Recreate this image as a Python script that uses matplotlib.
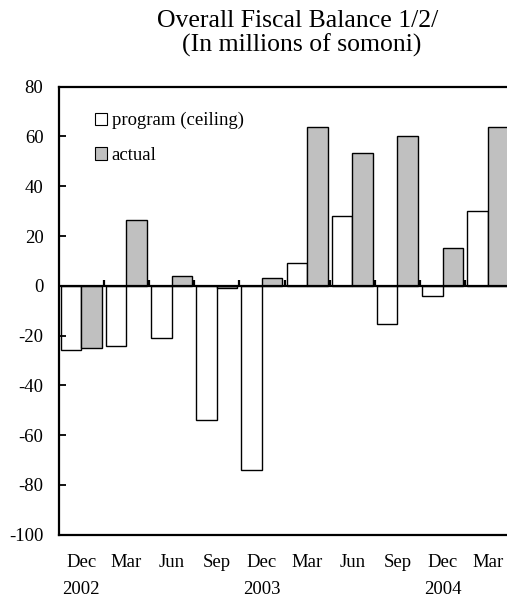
import numpy as np
import matplotlib
matplotlib.use('Agg')
import matplotlib.pyplot as plt
from matplotlib.patches import Patch

plt.rcParams['font.family'] = ['Liberation Serif', 'DejaVu Serif']
plt.rcParams['axes.unicode_minus'] = False

# quarterly data, millions of somoni
quarters = ['Dec\n2002', 'Mar', 'Jun', 'Sep', 'Dec\n2003', 'Mar', 'Jun', 'Sep', 'Dec\n2004', 'Mar']
program = [-25.7, -24, -21, -54, -74, 9, 28, -15.3, -4, 30]
actual = [-25, 26.4, 4, -1, 3, 63.7, 53.5, 60, 15, 64]

fig = plt.figure(figsize=(5.07, 5.99), dpi=100)
# plot area runs slightly past the right edge of the figure
ax = fig.add_axes([58.7/507, 1-534.7/599, 451.6/507, 448/599])

x = np.arange(len(quarters))
w = 0.454
ax.bar(x - w/2, program, w, color='white', edgecolor='black', linewidth=1.0, label='program (ceiling)')
ax.bar(x + w/2, actual, w, color='#C0C0C0', edgecolor='black', linewidth=1.0, label='actual')

ax.set_xlim(-0.5, len(quarters) - 0.5)
ax.set_ylim(-100, 80)
ax.set_yticks(np.arange(-100, 81, 20))
ax.tick_params(axis='y', direction='in', length=5, width=1.3, labelsize=13.5, pad=11)
ax.set_xticks(x)
ax.set_xticklabels(quarters, fontsize=13.5, linespacing=1.75)
ax.tick_params(axis='x', length=0, pad=14)
for s in ax.spines.values():
    s.set_linewidth(1.6)

# zero line with category tick marks
ax.axhline(0, color='black', linewidth=1.6, zorder=3)
zero_axis = ax.secondary_xaxis(100/180)
zero_axis.set_xticks(np.arange(0.5, len(quarters) - 0.5, 1))
zero_axis.tick_params(direction='out', length=4, width=1.6, labelbottom=False, labeltop=False)
zero_axis.spines['bottom'].set_visible(False)
zero_axis.spines['top'].set_visible(False)

handles = [Patch(facecolor='white', edgecolor='black', linewidth=0.8, label='program (ceiling)'),
           Patch(facecolor='#C0C0C0', edgecolor='black', linewidth=0.8, label='actual')]
ax.legend(handles=handles, loc='upper left', bbox_to_anchor=(95/507, 1-112/599),
          bbox_transform=fig.transFigure, frameon=False, fontsize=13.5,
          handlelength=0.62, handleheight=0.62, handletextpad=0.28,
          labelspacing=0.95, borderpad=0, borderaxespad=0)

fig.text(298/507, 1-27/599, 'Overall Fiscal Balance 1/2/', ha='center', va='baseline', fontsize=18.5)
fig.text(302/507, 1-52/599, '(In millions of somoni)', ha='center', va='baseline', fontsize=18.5)

fig.savefig('out.png', dpi=100)
